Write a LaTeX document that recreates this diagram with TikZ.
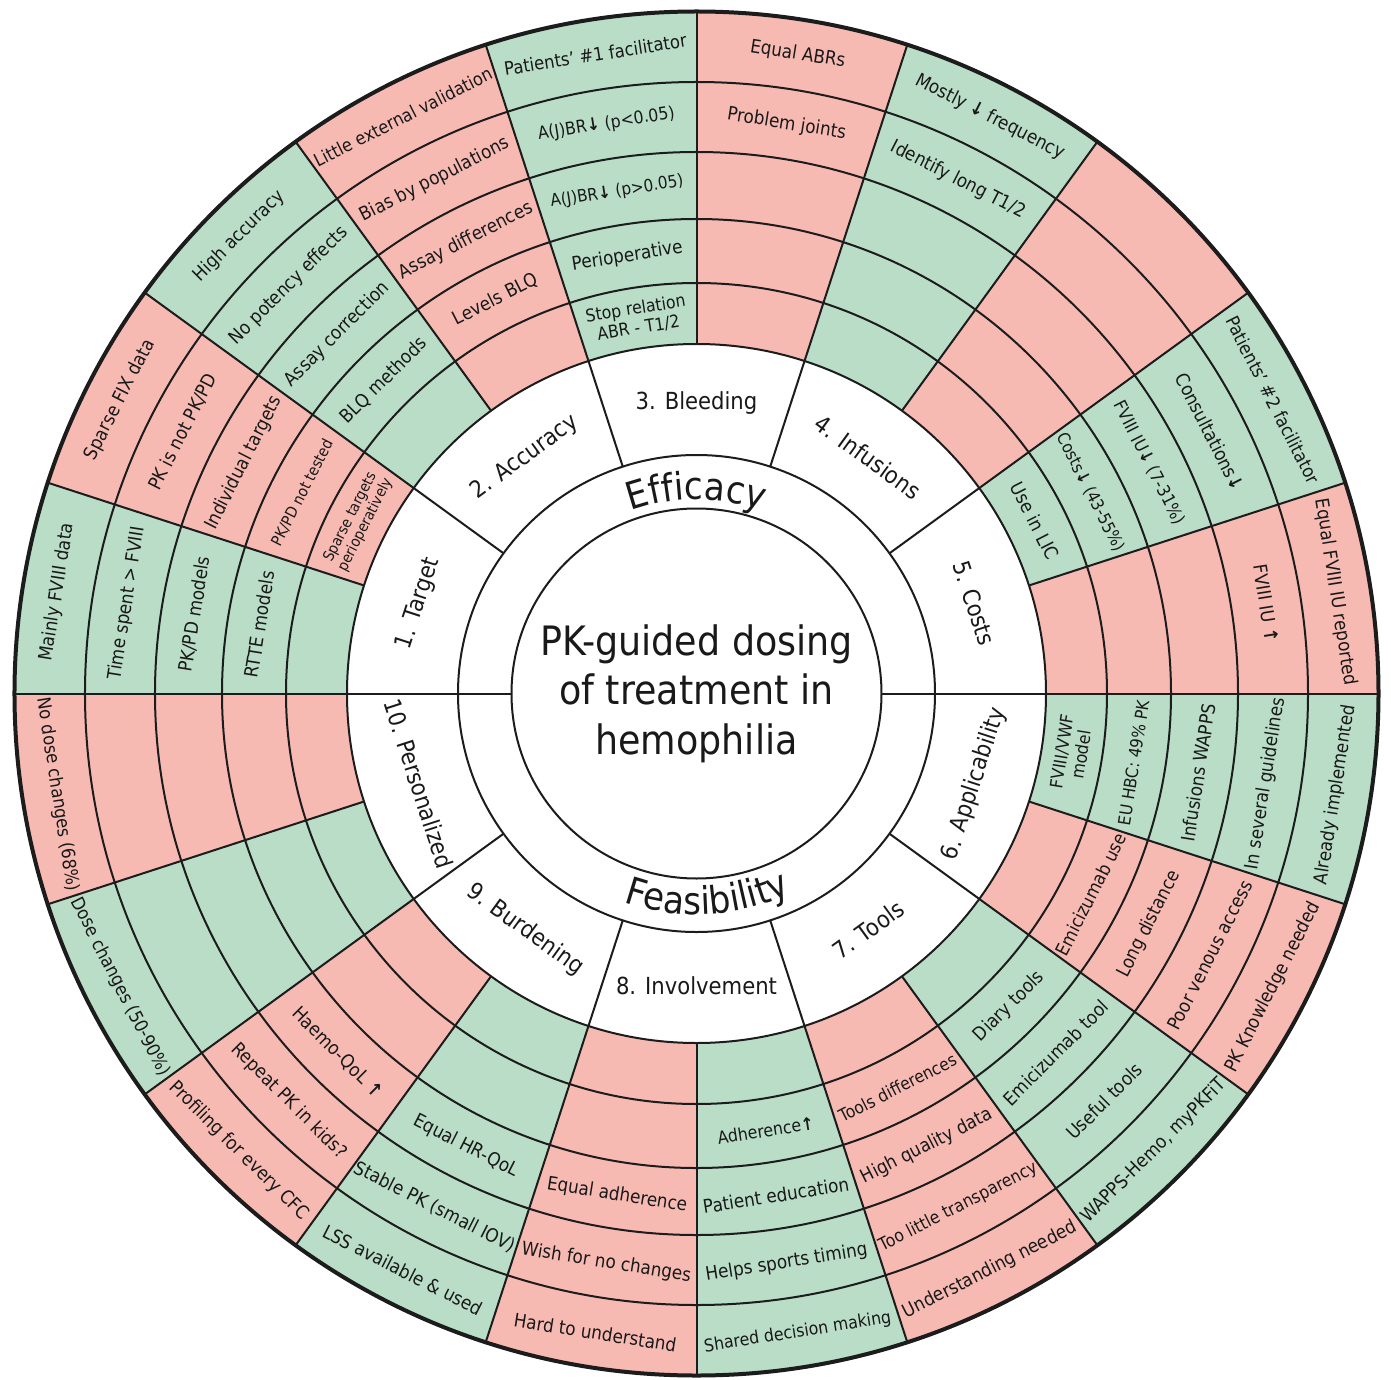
\documentclass[tikz,border=0pt]{standalone}
\usepackage{fontspec}
\setmainfont{DejaVu Sans}[FakeStretch=0.9]
\usetikzlibrary{decorations.text}
\definecolor{cred}{RGB}{247,186,179}
\definecolor{cgreen}{RGB}{185,221,199}
\definecolor{cline}{RGB}{28,28,28}
\definecolor{ctext}{RGB}{25,25,25}
\tikzset{
  celltxt/.style={inner sep=0pt, align=center, text=ctext},
  cattxt/.style={inner sep=0pt, align=center, text=ctext, font=\fontsize{23.5}{26}\selectfont},
  thinline/.style={draw=cline, line width=2pt},
}
\newcommand\dn{{\bfseries ↓}}
\newcommand\up{{\bfseries ↑}}
\newcommand\ctext[4][18.7]{%
  \pgfmathsetmacro\cang{171-18*#2}%
  \pgfmathsetmacro\crad{{380,442.5,508,576.5,647}[#3-1]}%
  \pgfmathsetmacro\crot{\cang>0 ? \cang-90 : \cang+90}%
  \pgfmathsetmacro\cbsk{1.12*#1}%
  \node[celltxt, font=\fontsize{#1}{\cbsk}\selectfont, rotate=\crot] (c#2r#3) at (\cang:\crad pt) {#4};%
}
\begin{document}
\begin{tikzpicture}[line join=round]
\useasboundingbox (-696.5pt,-685.5pt) rectangle (694.5pt,693.5pt);
\fill[white] (-696.5pt,-685.5pt) rectangle (694.5pt,693.5pt);
% cell fills
\foreach \h in {0,2,...,18}{
  \pgfmathsetmacro\aone{180-18*\h}
  \pgfmathsetmacro\atwo{180-18*(\h+1)}
  \fill[cgreen] (\aone:349.5pt) arc[start angle=\aone, end angle=\atwo, radius=349.5pt]
     -- (\atwo:682pt) arc[start angle=\atwo, end angle=\aone, radius=682pt] -- cycle;
}
\foreach \h in {1,3,...,19}{
  \pgfmathsetmacro\aone{180-18*\h}
  \pgfmathsetmacro\atwo{180-18*(\h+1)}
  \fill[cred] (\aone:349.5pt) arc[start angle=\aone, end angle=\atwo, radius=349.5pt]
     -- (\atwo:682pt) arc[start angle=\atwo, end angle=\aone, radius=682pt] -- cycle;
}
% rings
\foreach \r in {185,238.5,349.5,410.5,474.5,541.5,611.5}{
  \draw[thinline] (0,0) circle[radius=\r pt];
}
% radial lines
\foreach \a in {144,108,72,36,-36,-72,-108,-144}{
  \draw[thinline] (\a:238.5pt) -- (\a:682pt);
}
\foreach \a in {0,180}{
  \draw[thinline] (\a:185pt) -- (\a:682pt);
}
\foreach \a in {162,126,90,54,18,-18,-54,-90,-126,-162}{
  \draw[thinline] (\a:349.5pt) -- (\a:682pt);
}
\draw[draw=cline, line width=4pt] (0,0) circle[radius=682pt];
% centre
\node[align=center, text=ctext, inner sep=0pt, font=\fontsize{40.5}{49.5}\selectfont] (title) at (0,0) {PK-guided dosing\\of treatment in\\hemophilia};
\path[decorate, decoration={text along path, text align=center, text color=ctext,
  text={|\fontsize{38}{40}\selectfont|Efficacy}}] (125:194pt) arc[start angle=125, end angle=55, radius=194pt];
\path[decorate, decoration={text along path, text align=center, text color=ctext,
  text={|\fontsize{38}{40}\selectfont|Feasibility}}] (235:221pt) arc[start angle=235, end angle=311, radius=221pt];
% categories
\node[cattxt, rotate=72]  (cat1) at (162:292pt) {1. Target};
\node[cattxt, rotate=36]  (cat2) at (126:292pt) {2. Accuracy};
\node[cattxt, rotate=0]   (cat3) at (90:290pt) {3. Bleeding};
\node[cattxt, rotate=-36] (cat4) at (54:292pt) {4. Infusions};
\node[cattxt, rotate=-72] (cat5) at (18:292pt) {5. Costs};
\node[cattxt, rotate=72]  (cat6) at (-18:292pt) {6. Applicability};
\node[cattxt, rotate=36]  (cat7) at (-54:292pt) {7. Tools};
\node[cattxt, rotate=0]   (cat8) at (-90:292pt) {8. Involvement};
\node[cattxt, rotate=-36] (cat9) at (-126:292pt) {9. Burdening};
\node[cattxt, rotate=-72] (cat10) at (-162:292pt) {10. Personalized};
% cell texts
\ctext{0}{5}{Mainly FVIII data}
\ctext{0}{4}{Time spent > FVIII}
\ctext{0}{3}{PK/PD models}
\ctext{0}{2}{RTTE models}
\ctext{1}{5}{Sparse FIX data}
\ctext{1}{4}{PK is not PK/PD}
\ctext{1}{3}{Individual targets}
\ctext[15.5]{1}{2}{PK/PD not tested}
\ctext[15]{1}{1}{Sparse targets\\perioperatively}
\ctext{2}{5}{High accuracy}
\ctext{2}{4}{No potency effects}
\ctext{2}{3}{Assay correction}
\ctext{2}{2}{BLQ methods}
\ctext[18]{3}{5}{Little external validation}
\ctext{3}{4}{Bias by populations}
\ctext{3}{3}{Assay differences}
\ctext{3}{2}{Levels BLQ}
\ctext[18.3]{4}{5}{Patients’ \#1 facilitator}
\ctext[17.5]{4}{4}{A(J)BR\dn{} (p<0.05)}
\ctext[17]{4}{3}{A(J)BR\dn{} (p>0.05)}
\ctext{4}{2}{Perioperative}
\ctext[17.5]{4}{1}{Stop relation\\ABR - T1/2}
\ctext{5}{5}{Equal ABRs}
\ctext{5}{4}{Problem joints}
\ctext{6}{5}{Mostly \dn{} frequency}
\ctext{6}{4}{Identify long T1/2}
\ctext[18.3]{8}{5}{Patients’ \#2 facilitator}
\ctext{8}{4}{Consultations\dn}
\ctext[17.5]{8}{3}{FVIII IU\dn{} (7-31\%)}
\ctext[17]{8}{2}{Costs\dn{} (43-55\%)}
\ctext{8}{1}{Use in LIC}
\ctext{9}{5}{Equal FVIII IU reported}
\ctext{9}{4}{FVIII IU \up}
\ctext{10}{5}{Already implemented}
\ctext{10}{4}{In several guidelines}
\ctext{10}{3}{Infusions WAPPS}
\ctext[17]{10}{2}{EU HBC: 49\% PK}
\ctext[17.5]{10}{1}{FVIII/VWF\\model}
\ctext{11}{5}{PK Knowledge needed}
\ctext{11}{4}{Poor venous access}
\ctext{11}{3}{Long distance}
\ctext[18.3]{11}{2}{Emicizumab use}
\ctext{12}{5}{WAPPS-Hemo, myPKFiT}
\ctext{12}{4}{Useful tools}
\ctext{12}{3}{Emicizumab tool}
\ctext{12}{2}{Diary tools}
\ctext{13}{5}{Understanding needed}
\ctext[17.5]{13}{4}{Too little transparency}
\ctext{13}{3}{High quality data}
\ctext[17.3]{13}{2}{Tools differences}
\ctext[17.5]{14}{5}{Shared decision making}
\ctext{14}{4}{Helps sports timing}
\ctext{14}{3}{Patient education}
\ctext[17.5]{14}{2}{Adherence\up}
\ctext{15}{5}{Hard to understand}
\ctext{15}{4}{Wish for no changes}
\ctext{15}{3}{Equal adherence}
\ctext{16}{5}{LSS available \& used}
\ctext{16}{4}{Stable PK (small IOV)}
\ctext{16}{3}{Equal HR-QoL}
\ctext{17}{5}{Profiling for every CFC}
\ctext{17}{4}{Repeat PK in kids?}
\ctext{17}{3}{Haemo-QoL \up}
\ctext[18.3]{18}{5}{Dose changes (50-90\%)}
\ctext[18.3]{19}{5}{No dose changes (68\%)}
\end{tikzpicture}
\end{document}
